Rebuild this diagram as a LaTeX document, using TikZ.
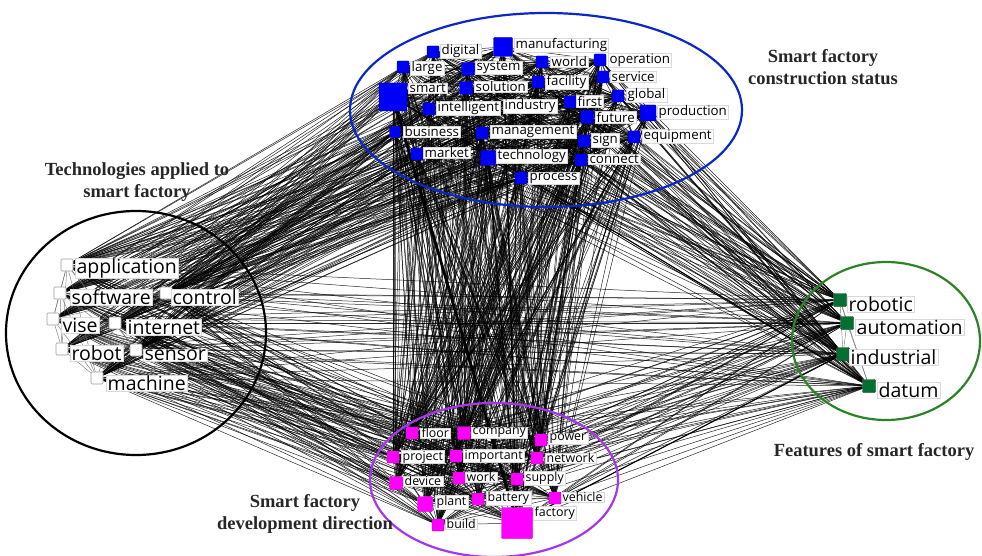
\documentclass[tikz,border=0pt]{standalone}
\usepackage{fontspec}
\setmainfont{Liberation Serif}
\newfontfamily\labfont{Open Sans}
\pgfdeclarelayer{edges}
\pgfsetlayers{edges,main}
\definecolor{sqblue}{RGB}{0,0,245}
\definecolor{sqmag}{RGB}{255,0,255}
\definecolor{sqgreen}{RGB}{5,110,50}
\definecolor{elblue}{RGB}{10,40,200}
\definecolor{elpurple}{RGB}{165,55,235}
\definecolor{elgreen}{RGB}{45,130,40}
\tikzset{
  sq/.style={rectangle, rounded corners=1pt, inner sep=0pt, line width=0.4pt},
  bsq/.style={sq, fill=sqblue, draw=sqblue!70!black},
  psq/.style={sq, fill=sqmag, draw=sqmag!70!black},
  gsq/.style={sq, fill=sqgreen, draw=sqgreen!70!black},
  wsq/.style={sq, fill=white, draw=gray!80, line width=0.7pt},
  lab/.style={anchor=west, fill=white, draw=gray!30, line width=0.3pt, inner xsep=1.5pt, inner ysep=0.5pt, text=black},
  slab/.style={lab, font=\labfont\fontsize{13.3}{13.3}\selectfont},
  plab/.style={lab, font=\labfont\fontsize{12.4}{12.4}\selectfont},
  biglab/.style={lab, font=\labfont\fontsize{19.5}{19.5}\selectfont},
  edge/.style={draw=black, line width=0.5pt, opacity=0.85},
  iedge/.style={draw=black!60, line width=0.45pt, opacity=0.85},
  title/.style={font=\bfseries\fontsize{18.5}{22}\selectfont, align=center, text=black!85},
  ring/.style={line width=2.2pt}
}
\def\Blist{digital,manufacturing,large,system,world,operation,smart,solution,facility,service,global,intelligent,industry,first,future,production,business,management,sign,equipment,market,technology,connect,process}
\def\Llist{application,software,control,vise,internet,robot,sensor,machine}
\def\Plist{floor,company,power,project,important,network,device,work,supply,plant,battery,vehicle,build,factory}
\def\Glist{robotic,automation,industrial,datum}
\begin{document}
\begin{tikzpicture}[x=1pt, y=-1pt]
\useasboundingbox (0,0) rectangle (982,556);

% cluster outlines
\draw[ring, elblue] (546,110) ellipse [x radius=196, y radius=97];
\draw[ring, black] (136,333) ellipse [x radius=130, y radius=122];
\draw[ring, elpurple] (494,480) ellipse [x radius=124, y radius=77];
\draw[ring, elgreen] (886,341) ellipse [x radius=94, y radius=79];

% titles
\node[title] (t-tech) at (137,182) {Technologies applied to\\smart factory};
\node[title] (t-cons) at (823,67) {Smart factory\\construction status};
\node[title] (t-dev) at (305,514) {Smart factory\\development direction};
\node[title] (t-feat) at (874,452) {Features of smart factory};

% blue cluster
\coordinate (industry) at (515,106);
\foreach \n/\x/\y/\s in {digital/433/52/12, manufacturing/503/47/19, large/403/67/12, system/468/69/13, world/542/62/12, operation/600/60/12, smart/393/97/28, solution/466/88/13, facility/538/82/12, service/603/77/12, global/618/96/12, intelligent/429/109/12, first/570/102/12, future/587/117/13, production/648/113/16, business/395/132/11, management/482/133/12, sign/584/141/12, equipment/634/137/12, market/417/154/12, technology/488/158/15, connect/581/160/12, process/521/178/12}
  {\node[bsq, minimum size=\s pt] (\n) at (\x,\y) {};}
\foreach \n/\lx/\ly in {digital/440/51, manufacturing/514/45, large/410/68, system/475/68, world/550/62, operation/608/60, smart/408/88, solution/474/87, facility/545/82, service/610/77, global/626/95, intelligent/436/108, industry/503/106, first/576/101, future/595/117, production/657/112, business/403/132, management/490/132, sign/591/140, equipment/642/136, market/423/153, technology/496/156, connect/588/159, process/528/178}
  {\node[slab] (\n-l) at (\lx,\ly) {\n};}

% left cluster
\foreach \n/\x/\y in {application/67/265, software/60/293, control/166/293, vise/53/319, internet/115/323, robot/62/349, sensor/136/350, machine/97/378}
  {\node[wsq, minimum size=12pt] (\n) at (\x,\y) {};}
\foreach \n/\lx/\ly in {application/75/268, software/70/297, control/171/297, vise/61/325, internet/126/327, robot/70/353, sensor/143/355, machine/106/383}
  {\node[biglab] (\n-l) at (\lx,\ly) {\n};}

% purple cluster
\foreach \n/\x/\y/\s in {floor/412/433/12, company/464/433/13, power/541/440/12, project/393/457/12, important/456/456/12, network/537/458/12, device/396/483/13, work/459/478/12, supply/517/479/12, plant/425/504/15, battery/478/499/12, vehicle/555/498/12, build/438/525/12, factory/517/523/31}
  {\node[psq, minimum size=\s pt] (\n) at (\x,\y) {};}
\foreach \n/\lx/\ly in {floor/420/433, company/471/433, power/548/439, project/401/457, important/463/456, network/545/458, device/403/481, work/465/477, supply/524/478, plant/435/502, battery/486/498, vehicle/561/497, build/445/524, factory/533/513}
  {\node[plab] (\n-l) at (\lx,\ly) {\n};}

% green cluster
\foreach \n/\x/\y in {robotic/840/300, automation/847/323, industrial/843/354, datum/869/386}
  {\node[gsq, minimum size=13pt] (\n) at (\x,\y) {};}
\foreach \n/\lx/\ly in {robotic/847/304, automation/855/327, industrial/849/357, datum/877/390}
  {\node[biglab] (\n-l) at (\lx,\ly) {\n};}

% connectors
\begin{pgfonlayer}{edges}
  \foreach \a [count=\i] in \Blist {\foreach \b [count=\j] in \Blist {\ifnum\j>\i \draw[edge] (\a) -- (\b);\fi}}
  \foreach \a in \Blist {\foreach \b in \Plist {\draw[edge] (\a) -- (\b);}}
  \foreach \a in \Blist {\foreach \b in \Llist {\draw[edge] (\a) -- (\b);}}
  \foreach \a in \Blist {\foreach \b in \Glist {\draw[edge] (\a) -- (\b);}}
  \foreach \a in \Llist {\foreach \b in \Plist {\draw[edge] (\a) -- (\b);}}
  \foreach \a in \Llist {\foreach \b in \Glist {\draw[edge] (\a) -- (\b);}}
  \foreach \a in \Plist {\foreach \b in \Glist {\draw[edge] (\a) -- (\b);}}
  \foreach \a [count=\i] in \Llist {\foreach \b [count=\j] in \Llist {\ifnum\j>\i \draw[iedge] (\a) -- (\b);\fi}}
  \foreach \a [count=\i] in \Plist {\foreach \b [count=\j] in \Plist {\ifnum\j>\i \draw[edge] (\a) -- (\b);\fi}}
  \foreach \a [count=\i] in \Glist {\foreach \b [count=\j] in \Glist {\ifnum\j>\i \draw[iedge] (\a) -- (\b);\fi}}
  \draw[draw=black, line width=2.8pt] (smart) -- (factory);
  \draw[draw=black, line width=1.3pt] (manufacturing) -- (factory);
  \draw[draw=black, line width=1.3pt] (technology) -- (factory);
  \draw[draw=black, line width=1.3pt] (smart) -- (manufacturing);
  \draw[draw=black, line width=1.1pt] (smart) -- (datum);
  \draw[draw=black, line width=1.1pt] (factory) -- (industrial);
\end{pgfonlayer}
\end{tikzpicture}
\end{document}
